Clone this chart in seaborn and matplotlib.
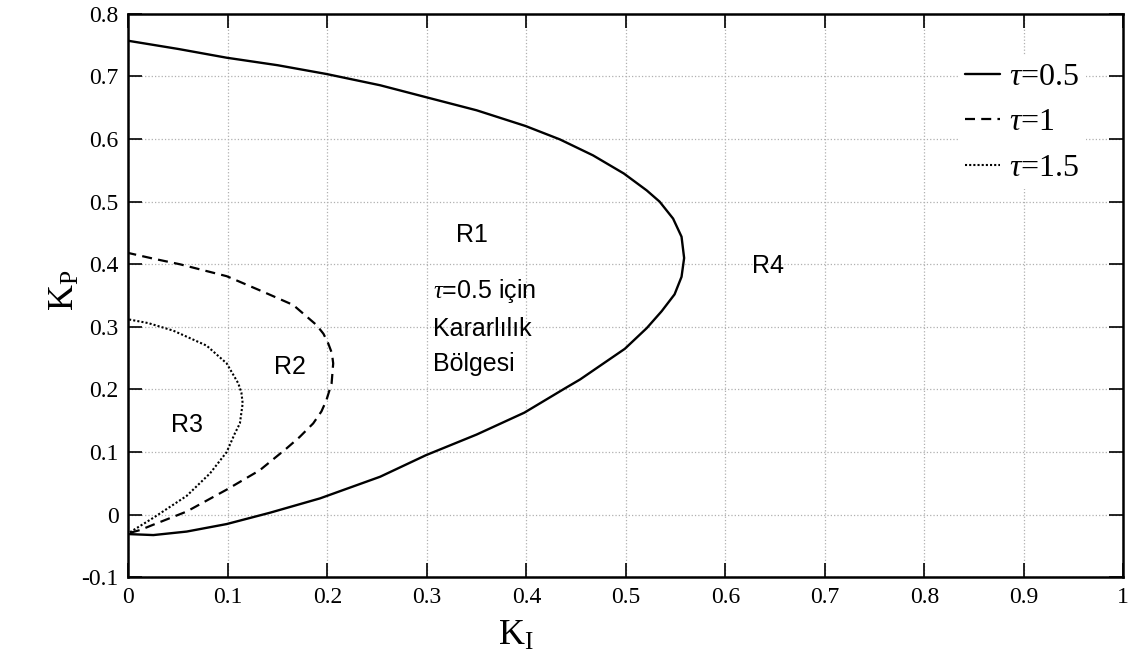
import numpy as np
import pandas as pd
import matplotlib
matplotlib.use('Agg')
import matplotlib.pyplot as plt
import seaborn as sns

# sinir egrileri (K_I, K_P) - grafikten okunan noktalar
ki_05 = [0.0, 0.025, 0.0585, 0.0987, 0.142, 0.1925, 0.253, 0.299, 0.35, 0.398, 0.439, 0.454,
         0.499, 0.521, 0.536, 0.549, 0.556, 0.5586, 0.556, 0.5475, 0.534, 0.521, 0.498, 0.467,
         0.4337, 0.399, 0.35, 0.299, 0.253, 0.199, 0.15, 0.0987, 0.05, 0.0]
kp_05 = [-0.031, -0.0326, -0.027, -0.015, 0.003, 0.026, 0.0606, 0.095, 0.128, 0.163, 0.202, 0.216,
         0.265, 0.298, 0.325, 0.352, 0.380, 0.410, 0.444, 0.473, 0.500, 0.518, 0.545, 0.574,
         0.5995, 0.621, 0.646, 0.667, 0.686, 0.704, 0.718, 0.730, 0.744, 0.757]

ki_1 = [0.0015, 0.0116, 0.025, 0.0585, 0.0987, 0.132, 0.159, 0.172, 0.1857, 0.194, 0.199, 0.2042,
        0.2058, 0.2045, 0.2008, 0.196, 0.189, 0.1656, 0.1355, 0.0987, 0.0518, 0.025, 0.0]
kp_1 = [-0.029, -0.0246, -0.016, 0.005, 0.040, 0.071, 0.106, 0.124, 0.1458, 0.165, 0.183, 0.2097,
        0.2417, 0.258, 0.2736, 0.289, 0.303, 0.335, 0.356, 0.381, 0.400, 0.409, 0.418]

ki_15 = [0.0015, 0.025, 0.0585, 0.082, 0.0987, 0.107, 0.112, 0.1148, 0.1135, 0.1104, 0.0987, 0.0786,
         0.045, 0.02, 0.0]
kp_15 = [-0.028, -0.005, 0.030, 0.066, 0.100, 0.130, 0.1458, 0.1778, 0.195, 0.2097, 0.2417, 0.270,
         0.294, 0.306, 0.312]

etiketler = [r'$\tau$=0.5', r'$\tau$=1', r'$\tau$=1.5']
x_ticks = [0, 0.1, 0.2, 0.3, 0.4, 0.5, 0.6, 0.7, 0.8, 0.9, 1]
x_tick_labels = ['0', '0.1', '0.2', '0.3', '0.4', '0.5', '0.6', '0.7', '0.8', '0.9', '1']
y_ticks = [-0.1, 0, 0.1, 0.2, 0.3, 0.4, 0.5, 0.6, 0.7, 0.8]
y_tick_labels = ['-0.1', '0', '0.1', '0.2', '0.3', '0.4', '0.5', '0.6', '0.7', '0.8']

sns.set_style('ticks')
plt.rcParams['font.family'] = ['Liberation Serif', 'DejaVu Serif']
plt.rcParams['mathtext.fontset'] = 'custom'
plt.rcParams['mathtext.rm'] = 'Liberation Serif'
plt.rcParams['mathtext.it'] = 'Liberation Serif:italic'
plt.rcParams['text.color'] = 'black'

fig = plt.figure(figsize=(11.31, 6.62), dpi=100)
ax = fig.add_axes([0.1136, 0.128, 0.8795, 0.851])

egriler = [(ki_05, kp_05, '-', 1.7, etiketler[0]),
           (ki_1, kp_1, (0, (4.5, 2.8)), 1.6, etiketler[1]),
           (ki_15, kp_15, (0, (1, 1)), 1.5, etiketler[2])]
for ki, kp, ls, lw, lab in egriler:
    df = pd.DataFrame({'KI': ki, 'KP': kp})
    sns.lineplot(data=df, x='KI', y='KP', sort=False, estimator=None, color='black',
                 linestyle=ls, linewidth=lw, label=lab, ax=ax)

ax.set_xlim(0, 1)
ax.set_ylim(-0.1, 0.8)
ax.set_xticks(x_ticks)
ax.set_xticklabels(x_tick_labels)
ax.set_yticks(y_ticks)
ax.set_yticklabels(y_tick_labels)
ax.tick_params(direction='in', length=10, width=1.2, top=True, right=True, labelsize=17,
               colors='black', pad=7)
for s in ax.spines.values():
    s.set_linewidth(1.8)
    s.set_color('black')
ax.grid(True, linestyle=':', color='#b0b0b0', linewidth=0.9)

ax.set_xlabel(r'$\mathrm{K_I}$', fontsize=26, color='black')
ax.set_ylabel(r'$\mathrm{K_P}$', fontsize=26, color='black')
ax.xaxis.set_label_coords(0.39, -0.075)
ax.yaxis.set_label_coords(-0.047, 0.51)

sans = ['Liberation Sans Narrow', 'Liberation Sans', 'DejaVu Sans']
yazi = dict(fontsize=18, family=sans, color='black', va='center')
ax.text(0.345, 0.447, 'R1', ha='center', **yazi)
ax.text(0.643, 0.397, 'R4', ha='center', **yazi)
ax.text(0.162, 0.236, 'R2', ha='center', **yazi)
ax.text(0.0585, 0.143, 'R3', ha='center', **yazi)
ax.text(0.306, 0.358, r'$\tau$=0.5 için', ha='left', **yazi)
ax.text(0.306, 0.296, 'Kararlılık', ha='left', **yazi)
ax.text(0.306, 0.241, 'Bölgesi', ha='left', **yazi)

leg = ax.legend(loc='upper left', bbox_to_anchor=(0.818, 0.953), fontsize=23, frameon=True,
                fancybox=False, edgecolor='none', facecolor='white', framealpha=1,
                handlelength=1.1, handletextpad=0.3, labelspacing=0.5, borderpad=0.2)
for t in leg.get_texts():
    t.set_color('black')

fig.savefig('out.png', dpi=100)
